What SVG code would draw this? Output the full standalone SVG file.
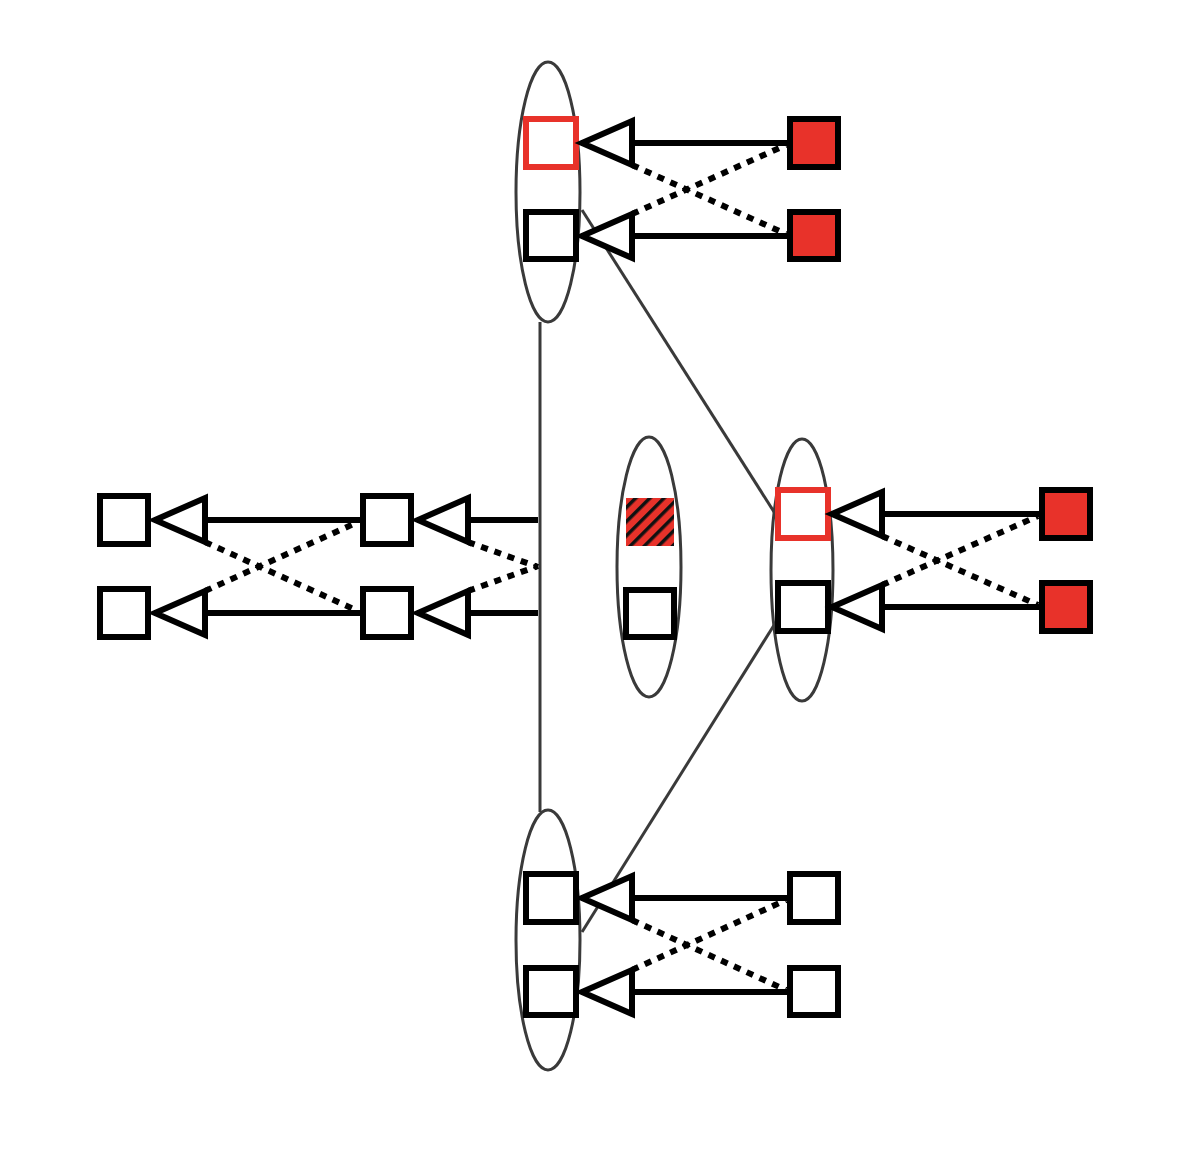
<svg xmlns="http://www.w3.org/2000/svg" width="1194" height="1160" viewBox="0 0 1194 1160">
<style>
.sq{fill:#fff;stroke:#000;stroke-width:6}
.rs{fill:#fff;stroke:#e8322a;stroke-width:6}
.rf{fill:#e8322a;stroke:#000;stroke-width:6}
.tri{fill:#fff;stroke:#000;stroke-width:6}
.ln{stroke:#000;stroke-width:6;fill:none}
.dt{stroke:#000;stroke-width:6;stroke-dasharray:7 7;fill:none}
.el{fill:none;stroke:#3a3a3a;stroke-width:3}
.cn{stroke:#3a3a3a;stroke-width:3;fill:none}
</style>
<defs>
<pattern id="hatch" width="10" height="10" patternUnits="userSpaceOnUse" patternTransform="rotate(45)">
<rect width="10" height="10" fill="#e8322a"/>
<rect width="3.5" height="10" fill="#111"/>
</pattern>
</defs>
<rect width="1194" height="1160" fill="#fff"/>
<g id="connectors">
<line class="cn" x1="540" y1="322" x2="540" y2="812"/>
<line class="cn" x1="582" y1="210" x2="776" y2="515"/>
<line class="cn" x1="776" y1="622" x2="582" y2="932"/>
<line class="ln" x1="632" y1="143" x2="790" y2="143"/>
<line class="ln" x1="632" y1="236" x2="790" y2="236"/>
<line class="dt" x1="632" y1="165" x2="786" y2="234"/>
<line class="dt" x1="632" y1="214" x2="786" y2="145"/>
<line class="ln" x1="882" y1="514" x2="1042" y2="514"/>
<line class="ln" x1="882" y1="607" x2="1042" y2="607"/>
<line class="dt" x1="882" y1="536" x2="1038" y2="605"/>
<line class="dt" x1="882" y1="585" x2="1038" y2="516"/>
<line class="ln" x1="632" y1="898" x2="790" y2="898"/>
<line class="ln" x1="632" y1="992" x2="790" y2="992"/>
<line class="dt" x1="632" y1="920" x2="786" y2="990"/>
<line class="dt" x1="632" y1="970" x2="786" y2="900"/>
<line class="ln" x1="205" y1="520" x2="362" y2="520"/>
<line class="ln" x1="205" y1="613" x2="362" y2="613"/>
<line class="dt" x1="205" y1="542" x2="358" y2="611"/>
<line class="dt" x1="205" y1="591" x2="358" y2="522"/>
<line class="ln" x1="468" y1="520" x2="538" y2="520"/>
<line class="ln" x1="468" y1="613" x2="538" y2="613"/>
<line class="dt" x1="468" y1="542" x2="538" y2="567"/>
<line class="dt" x1="468" y1="591" x2="538" y2="566"/>
</g>
<g id="top">
<ellipse class="el" cx="548" cy="192" rx="32" ry="130"/>
<rect class="rs" x="526" y="119" width="50" height="48"/>
<rect class="sq" x="526" y="212" width="50" height="47"/>
<polygon class="tri" points="582,143 632,121 632,165"/>
<polygon class="tri" points="582,236 632,214 632,258"/>
<rect class="rf" x="790" y="119" width="48" height="48"/>
<rect class="rf" x="790" y="212" width="48" height="47"/>
</g>
<g id="right">
<ellipse class="el" cx="802" cy="570" rx="31" ry="131"/>
<rect class="rs" x="778" y="490" width="50" height="48"/>
<rect class="sq" x="778" y="583" width="50" height="48"/>
<polygon class="tri" points="832,514 882,492 882,536"/>
<polygon class="tri" points="832,607 882,585 882,629"/>
<rect class="rf" x="1042" y="490" width="48" height="48"/>
<rect class="rf" x="1042" y="583" width="48" height="48"/>
</g>
<g id="center">
<ellipse class="el" cx="649" cy="567" rx="32" ry="130"/>
<rect x="626" y="498" width="48" height="48" fill="url(#hatch)"/>
<rect class="sq" x="626" y="590" width="48" height="47"/>
</g>
<g id="bottom">
<ellipse class="el" cx="548" cy="940" rx="32" ry="130"/>
<rect class="sq" x="526" y="874" width="50" height="48"/>
<rect class="sq" x="526" y="968" width="50" height="47"/>
<polygon class="tri" points="582,898 632,876 632,920"/>
<polygon class="tri" points="582,992 632,970 632,1014"/>
<rect class="sq" x="790" y="874" width="48" height="48"/>
<rect class="sq" x="790" y="968" width="48" height="47"/>
</g>
<g id="left">
<rect class="sq" x="100" y="496" width="48" height="48"/>
<rect class="sq" x="100" y="589" width="48" height="48"/>
<polygon class="tri" points="155,520 205,498 205,542"/>
<polygon class="tri" points="155,613 205,591 205,635"/>
<rect class="sq" x="363" y="496" width="48" height="48"/>
<rect class="sq" x="363" y="589" width="48" height="48"/>
<polygon class="tri" points="418,520 468,498 468,542"/>
<polygon class="tri" points="418,613 468,591 468,635"/>
</g>
</svg>
